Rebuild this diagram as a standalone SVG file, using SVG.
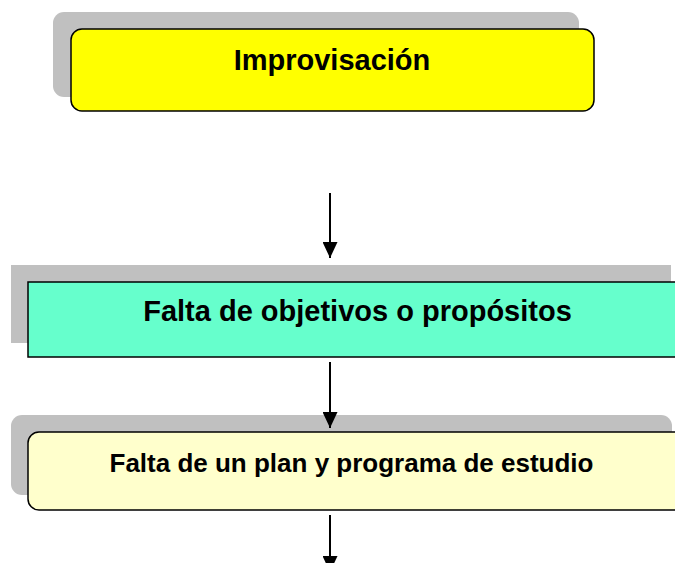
<svg xmlns="http://www.w3.org/2000/svg" width="675" height="563" viewBox="0 0 675 563">
<defs>
<style>
.shadow{fill:#c0c0c0;}
.box{stroke:#000;stroke-width:1.5;}
.lbl{font-family:"Liberation Sans",Arial,sans-serif;font-weight:bold;fill:#000;text-anchor:middle;}
.conn{stroke:#000;stroke-width:2;fill:none;}
</style>
<marker id="ah" viewBox="0 0 16 15" refX="16" refY="7.5" markerWidth="16" markerHeight="15" markerUnits="userSpaceOnUse" orient="auto">
<path d="M0,0 L16,7.5 L0,15 Z" fill="#000"/>
</marker>
</defs>
<rect width="675" height="563" fill="#fff"/>
<g id="node-improvisacion">
<rect class="shadow" x="53" y="12" width="526" height="85" rx="11"/>
<rect class="box" x="71" y="29" width="523" height="82" rx="11" fill="#ffff00"/>
<text class="lbl" x="332" y="70" font-size="29">Improvisación</text>
</g>
<g id="node-objetivos">
<rect class="shadow" x="11" y="265" width="660" height="78"/>
<rect class="box" x="28" y="282" width="660" height="75" fill="#66ffcc"/>
<text class="lbl" x="357.5" y="321" font-size="29">Falta de objetivos o propósitos</text>
</g>
<g id="node-plan">
<rect class="shadow" x="11" y="415" width="661" height="80" rx="11"/>
<rect class="box" x="28" y="432" width="670" height="78" rx="11" fill="#ffffcc"/>
<text class="lbl" x="351.5" y="472" font-size="26">Falta de un plan y programa de estudio</text>
</g>
<g id="connectors">
<path class="conn" d="M330,193 L330,258" marker-end="url(#ah)"/>
<path class="conn" d="M330,362 L330,428" marker-end="url(#ah)"/>
<path class="conn" d="M330,515 L330,572" marker-end="url(#ah)"/>
</g>
</svg>
